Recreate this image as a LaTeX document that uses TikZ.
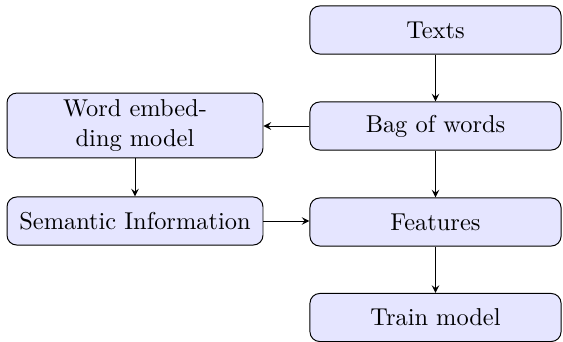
\documentclass[tikz,border=0pt]{standalone}
\usetikzlibrary{arrows.meta}
\begin{document}
\begin{tikzpicture}[x=0.4098pt,y=-0.4098pt,
  box/.style={draw, fill=blue!10, rounded corners=4pt, inner sep=0pt, align=center},
  rbox/.style={box, minimum width=102.9pt, minimum height=19.7pt},
  lbox/.style={box, minimum width=104.9pt},
  arr/.style={-stealth}]
\useasboundingbox (0,0) rectangle (563,342);
\node[rbox] (texts) at (435.5,30) {Texts};
\node[rbox] (bag) at (435.5,126) {Bag of words};
\node[rbox] (feat) at (435.5,222) {Features};
\node[rbox] (train) at (435.5,317.5) {Train model};
\node[lbox, minimum height=26.6pt] (we) at (135,125.5) {Word embed-\\ding model};
\node[lbox, minimum height=19.7pt] (sem) at (135,221) {Semantic Information};
\draw[arr] (texts) -- (bag);
\draw[arr] (bag.west) -- (bag.west -| we.east);
\draw[arr] (bag) -- (feat);
\draw[arr] (we) -- (sem);
\draw[arr] (sem.east) -- (sem.east -| feat.west);
\draw[arr] (feat) -- (train);
\end{tikzpicture}
\end{document}
